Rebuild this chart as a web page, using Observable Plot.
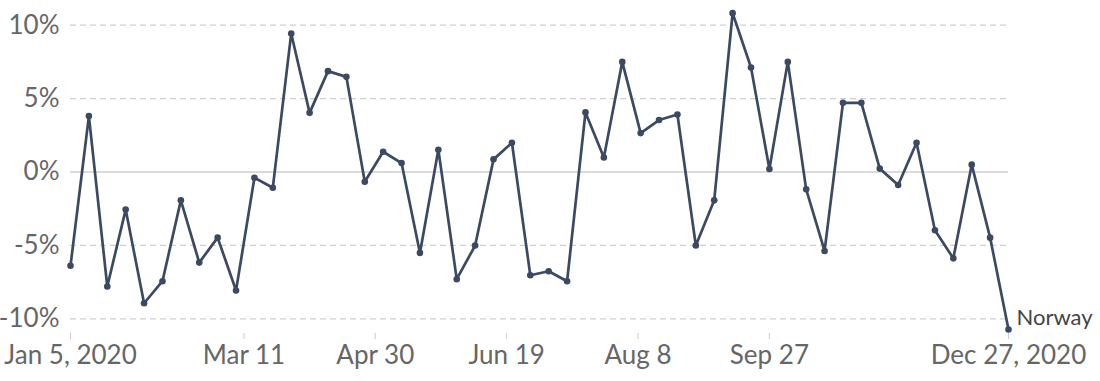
<!DOCTYPE html>
<html>
<head>
<meta charset="utf-8">
<script src="https://cdn.jsdelivr.net/npm/d3@7"></script>
<script src="https://cdn.jsdelivr.net/npm/@observablehq/plot@0.6"></script>
<style>
  html, body { margin: 0; padding: 0; background: #fff; }
  #chart { width: 1100px; height: 381px; }
</style>
</head>
<body>
<div id="chart"></div>
<script>
const seriesName = "Norway";
const startDate = "2020-01-05";
const values = [
  -6.39, 3.81, -7.80, -2.56, -8.94, -7.44, -1.93, -6.17, -4.47, -8.07,
  -0.39, -1.07, 9.43, 4.03, 6.87, 6.48, -0.66, 1.38, 0.61, -5.51,
  1.52, -7.30, -5.01, 0.86, 1.99, -7.03, -6.76, -7.44, 4.06, 0.99,
  7.50, 2.65, 3.54, 3.92, -5.01, -1.93, 10.82, 7.12, 0.20, 7.50,
  -1.18, -5.38, 4.71, 4.71, 0.23, -0.89, 1.99, -3.97, -5.88, 0.50,
  -4.47, -10.73
];
const xTickDates = ["2020-01-05", "2020-03-11", "2020-04-30", "2020-06-19", "2020-08-08", "2020-09-27", "2020-12-27"];
const xTickLabels = ["Jan 5, 2020", "Mar 11", "Apr 30", "Jun 19", "Aug 8", "Sep 27", "Dec 27, 2020"];
const yTicks = [-10, -5, 0, 5, 10];
const yTickLabels = ["-10%", "-5%", "0%", "5%", "10%"];

const start = new Date(startDate + "T00:00:00Z");
const data = values.map((v, i) => ({date: d3.utcDay.offset(start, 7 * i), value: v}));
const tickDates = xTickDates.map(s => new Date(s + "T00:00:00Z"));
const last = data[data.length - 1];

const lineColor = "#3b4a62";

const chart = Plot.plot({
  width: 1100,
  height: 381,
  marginLeft: 70,
  marginRight: 92,
  marginTop: 10,
  marginBottom: 48,
  style: {fontFamily: "Lato, sans-serif", fontSize: "26px", background: "#fff"},
  x: {type: "utc", domain: [tickDates[0], tickDates[tickDates.length - 1]]},
  y: {domain: [-11, 11]},
  marks: [
    Plot.ruleY(yTicks.filter(d => d !== 0), {stroke: "#cfcfcf", strokeWidth: 1.2, strokeDasharray: "6,4"}),
    Plot.ruleY([0], {stroke: "#cfcfcf", strokeWidth: 1.5}),
    Plot.axisY({ticks: yTicks, tickSize: 0, tickPadding: 11, fill: "#666", fontSize: 26,
      tickFormat: d => yTickLabels[yTicks.indexOf(d)], label: null}),
    Plot.axisX({ticks: tickDates, tickSize: 6, tickPadding: 6, stroke: "#ccc", fill: "#666", fontSize: 26,
      tickFormat: (d) => xTickLabels[tickDates.findIndex(t => +t === +d)], label: null}),
    Plot.line(data, {x: "date", y: "value", stroke: lineColor, strokeWidth: 2.7}),
    Plot.dot(data, {x: "date", y: "value", fill: lineColor, r: 3.3}),
    Plot.text([last], {x: "date", y: "value", text: () => seriesName, textAnchor: "start", dx: 8, dy: -12,
      fill: "#444", fontSize: 22})
  ]
});
document.getElementById("chart").appendChild(chart);
</script>
</body>
</html>
